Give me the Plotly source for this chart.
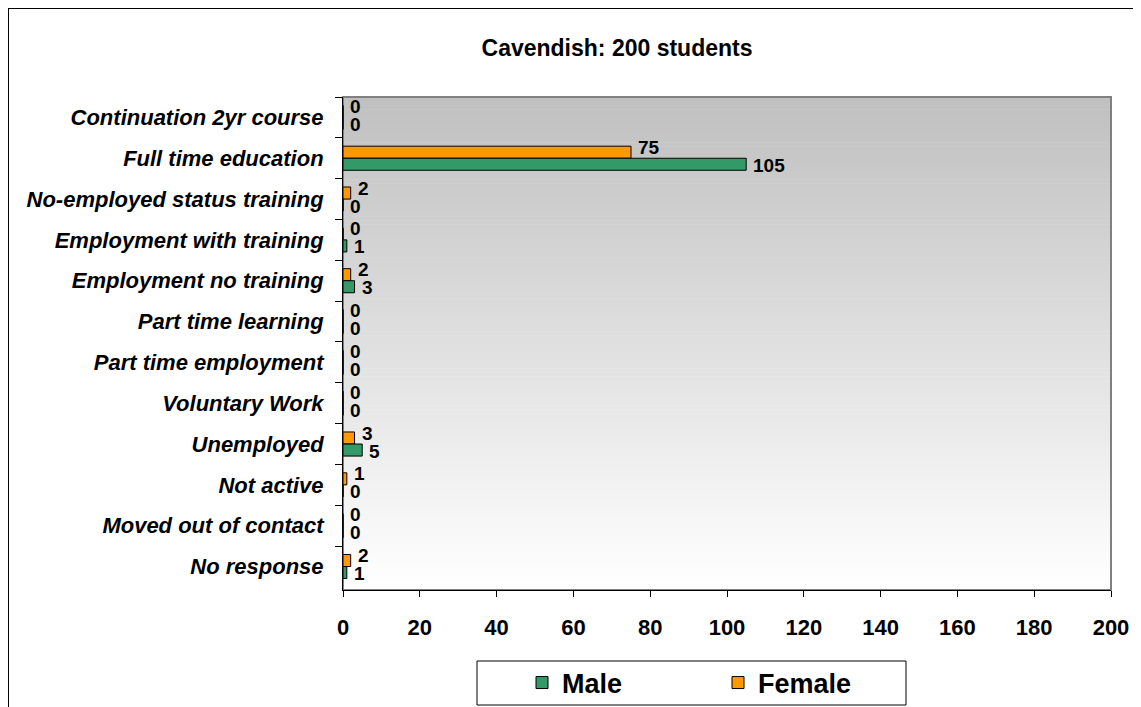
import plotly.graph_objects as go

# categories top to bottom
categories = ["Continuation 2yr course", "Full time education", "No-employed status training",
              "Employment with training", "Employment no training", "Part time learning",
              "Part time employment", "Voluntary Work", "Unemployed", "Not active",
              "Moved out of contact", "No response"]
male = [0, 105, 0, 1, 3, 0, 0, 0, 5, 0, 0, 1]
female = [0, 75, 2, 0, 2, 0, 0, 0, 3, 1, 0, 2]
x_ticks = [0, 20, 40, 60, 80, 100, 120, 140, 160, 180, 200]

FONT = "Arial, Liberation Sans, sans-serif"
OFF = 8  # page body margin
W, H = 1141 - OFF, 740
# plot area in page pixels: left 343, top 97, right 1111, bottom 590
L, T = 343 - OFF, 97 - OFF
R, B = W - (1111 - OFF), H - (590 - OFF)
pw, ph = W - L - R, H - T - B

def px_x(p):  # page pixel -> paper x
    return (p - OFF - L) / pw

def px_y(p):  # page pixel -> paper y
    return (H - B - (p - OFF)) / ph

fig = go.Figure()
# female first so it sits above male in each group (y axis reversed)
fig.add_trace(go.Bar(y=categories, x=female, name="Female", orientation="h",
                     marker=dict(color="#FF9900", line=dict(color="black", width=1))))
fig.add_trace(go.Bar(y=categories, x=male, name="Male", orientation="h",
                     marker=dict(color="#339966", line=dict(color="black", width=1))))

# value labels
annotations = []
for cat, f, m in zip(categories, female, male):
    for val, dy in ((f, 11), (m, -7)):
        annotations.append(dict(x=val, y=cat, xref="x", yref="y", text=str(val),
                                showarrow=False, xanchor="left", yanchor="middle",
                                xshift=5, yshift=dy,
                                font=dict(family=FONT, size=19, color="black",
                                          weight="bold")))

# gradient plot background, grey at top to white at bottom
shapes = []
n = 120
for i in range(n):
    f = i / (n - 1)
    v = int(round(192 + (255 - 192) * f))
    shapes.append(dict(type="rect", xref="x domain", yref="y domain", layer="below",
                       x0=0, x1=1, y0=1 - (i + 1) / n - 0.001, y1=1 - i / n,
                       fillcolor=f"rgb({v},{v},{v})", line=dict(width=0)))
# plot area border
shapes.append(dict(type="rect", xref="x domain", yref="y domain", layer="below",
                   x0=0, x1=1, y0=0, y1=1, line=dict(color="#808080", width=2)))
# outer chart border (extends beyond the picture)
shapes.append(dict(type="rect", xref="paper", yref="paper",
                   x0=px_x(OFF), x1=px_x(1400), y0=px_y(1000), y1=px_y(OFF),
                   line=dict(color="black", width=2), fillcolor="rgba(0,0,0,0)"))
# legend box
shapes.append(dict(type="rect", xref="paper", yref="paper",
                   x0=px_x(477), x1=px_x(906), y0=px_y(705), y1=px_y(661),
                   line=dict(color="black", width=1), fillcolor="white"))

fig.update_layout(
    width=W, height=H,
    margin=dict(l=L, r=R, t=T, b=B),
    paper_bgcolor="white", plot_bgcolor="rgba(0,0,0,0)",
    barmode="group", bargap=0.41, bargroupgap=0,
    font=dict(family=FONT, color="black"),
    title=dict(text="Cavendish: 200 students", x=(617 - OFF) / W, xanchor="center",
               y=1 - (48 - OFF) / H, yanchor="middle",
               font=dict(size=23, family=FONT, weight="bold")),
    shapes=shapes,
    annotations=annotations,
    showlegend=True,
    legend=dict(orientation="h", traceorder="reversed",
                x=px_x(522), xanchor="left", y=px_y(683), yanchor="middle",
                borderwidth=0, bgcolor="rgba(0,0,0,0)",
                font=dict(size=27, family=FONT, weight="bold"), entrywidth=151,
                itemwidth=30),
)
fig.update_xaxes(range=[0, 200], tickvals=x_ticks, showgrid=False, zeroline=False,
                 showline=True, linecolor="black", linewidth=1,
                 ticks="outside", ticklen=6, tickcolor="black",
                 ticklabelstandoff=12,
                 tickfont=dict(size=22, family=FONT, weight="bold"))
fig.update_yaxes(autorange="reversed", showgrid=False, showline=True, linecolor="black",
                 linewidth=1, ticks="outside", ticklen=7, tickcolor="black",
                 tickson="boundaries", ticklabelstandoff=14,
                 tickfont=dict(size=22, family=FONT, weight="bold", style="italic"))

fig.write_html("out.html")
